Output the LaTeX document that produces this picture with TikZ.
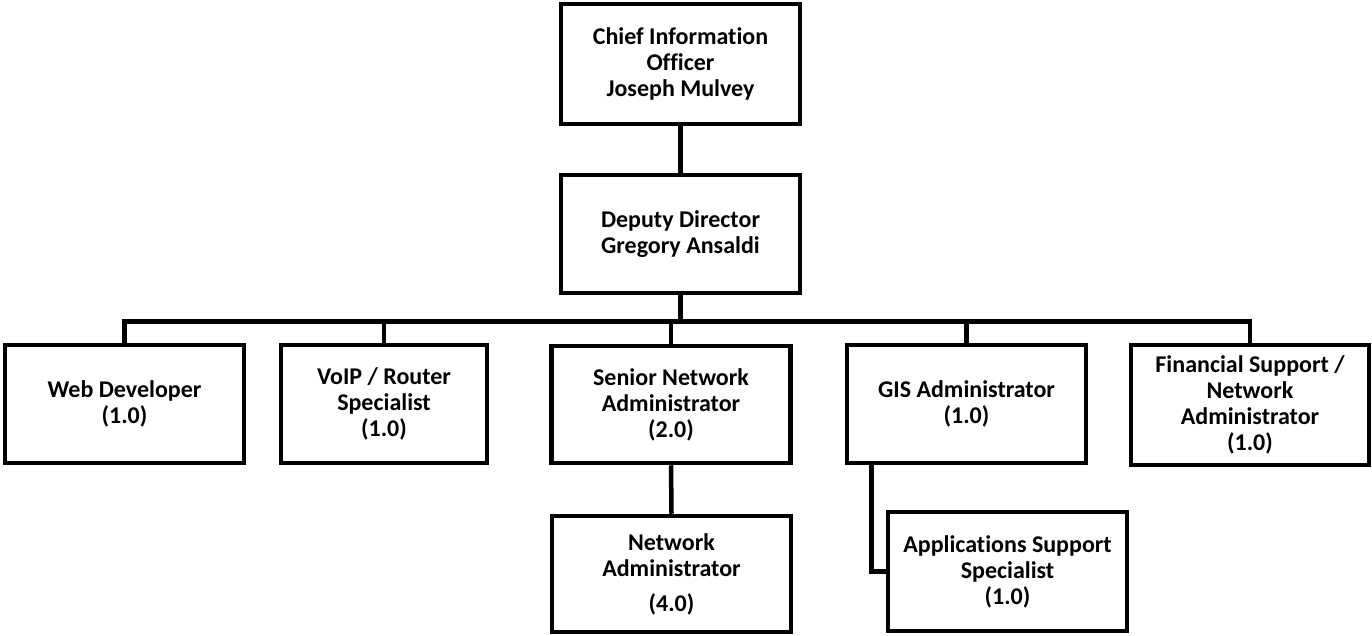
\documentclass[tikz,border=0pt]{standalone}
\usepackage{fontspec}
\setmainfont{Carlito}[Ligatures={NoCommon,NoRare,NoContextual}]
\begin{document}
\begin{tikzpicture}[x=1pt,y=-1pt,
  box/.style={draw,line width=4.5pt,line join=miter,inner sep=0pt,align=center,
    font=\fontsize{24}{26}\selectfont\bfseries},
  conn/.style={line width=4.5pt}]
\useasboundingbox (0,0) rectangle (1372,636);
\node[box,minimum width=239pt,minimum height=120pt] (cio) at (680.5,64) {Chief Information\\Officer\\Joseph Mulvey};
\node[box,minimum width=239pt,minimum height=118pt] (dep) at (680.5,234) {Deputy Director\\Gregory Ansaldi};
\node[box,minimum width=239pt,minimum height=118pt] (web) at (124.5,404) {Web Developer\\(1.0)};
\node[box,minimum width=206pt,minimum height=118pt] (voip) at (384,404) {VoIP / Router\\Specialist\\(1.0)};
\node[box,minimum width=239pt,minimum height=117pt] (sen) at (671,404.5) {Senior Network\\Administrator\\(2.0)};
\node[box,minimum width=239pt,minimum height=118pt] (gis) at (966.5,404) {GIS Administrator\\(1.0)};
\node[box,minimum width=238pt,minimum height=120pt] (fin) at (1250,405) {Financial Support /\\Network\\Administrator\\(1.0)};
\node[box,minimum width=239pt,minimum height=116pt] (net) at (671.5,574) {Network\\Administrator\\[9pt](4.0)};
\node[box,minimum width=239pt,minimum height=119pt] (app) at (1007.5,571.5) {Applications Support\\Specialist\\(1.0)};
\draw[conn] (cio.south) -- (dep.north);
\draw[conn] (dep.south) -- ++(0,26) coordinate (bus);
\draw[conn] (web.north) |- (bus) -| (fin.north);
\draw[conn] (voip.north) -- (voip.north |- bus);
\draw[conn] (sen.north) -- (sen.north |- bus);
\draw[conn] (gis.north) -- (gis.north |- bus);
\draw[conn] (sen.south) -- (net.north);
\draw[conn] ([xshift=-95pt]gis.south) |- (app.west);
\end{tikzpicture}
\end{document}
